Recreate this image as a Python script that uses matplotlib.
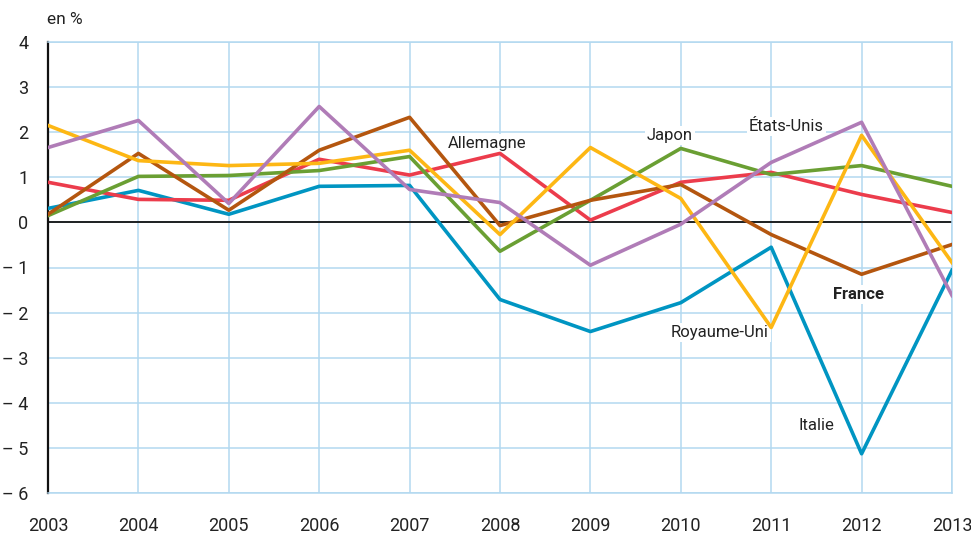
import matplotlib
matplotlib.use("Agg")
import matplotlib.pyplot as plt

plt.rcParams['font.family'] = ['Roboto', 'DejaVu Sans']

annees = list(range(2003, 2014))

allemagne = [0.89, 0.51, 0.49, 1.40, 1.05, 1.53, 0.05, 0.89, 1.11, 0.62, 0.22]
italie = [0.31, 0.71, 0.18, 0.80, 0.82, -1.71, -2.42, -1.78, -0.55, -5.13, -1.06]
japon = [0.15, 1.02, 1.04, 1.15, 1.46, -0.64, 0.49, 1.64, 1.06, 1.26, 0.80]
royaume_uni = [2.15, 1.37, 1.26, 1.31, 1.60, -0.27, 1.66, 0.53, -2.33, 1.93, -0.89]
etats_unis = [1.66, 2.26, 0.42, 2.57, 0.73, 0.44, -0.95, -0.04, 1.33, 2.22, -1.62]
france = [0.18, 1.53, 0.27, 1.60, 2.33, -0.07, 0.49, 0.84, -0.27, -1.15, -0.49]

graduations = [4, 3, 2, 1, 0, -1, -2, -3, -4, -5, -6]

grille = '#b3d8f0'

fig = plt.figure(figsize=(9.71, 5.37), dpi=100)
ax = fig.add_axes([48 / 971, 44 / 537, 904 / 971, 451 / 537])

ax.set_xlim(2003, 2013)
ax.set_ylim(-6, 4)
ax.set_xticks(annees)
ax.set_yticks(graduations)
ax.set_yticklabels([str(v) if v >= 0 else '\u2013 ' + str(-v) for v in graduations])
ax.grid(True, color=grille, linewidth=1.1)
ax.set_axisbelow(True)
ax.tick_params(length=0, labelsize=13, colors='#222222')
ax.tick_params(axis='x', pad=17)
ax.tick_params(axis='y', pad=14)
for cote in ['top', 'right', 'bottom']:
    ax.spines[cote].set_color(grille)
    ax.spines[cote].set_linewidth(1.1)
ax.spines['left'].set_color('#111111')
ax.spines['left'].set_linewidth(1.6)
ax.axhline(0, color='#111111', linewidth=1.3, zorder=2)

series = [
    (italie, '#0095c2'),
    (allemagne, '#ec3c4c'),
    (japon, '#6a9f33'),
    (france, '#b4560f'),
    (royaume_uni, '#fdb714'),
    (etats_unis, '#b07cb7'),
]
for valeurs, couleur in series:
    ax.plot(annees, valeurs, color=couleur, linewidth=2.6, zorder=3)

etiquettes = [
    ('Allemagne', 2007.86, 1.75, 'normal'),
    ('Japon', 2009.88, 1.93, 'normal'),
    ('États-Unis', 2011.17, 2.13, 'normal'),
    ('France', 2011.97, -1.6, 'bold'),
    ('Royaume-Uni', 2010.43, -2.44, 'normal'),
    ('Italie', 2011.5, -4.5, 'normal'),
]
for texte, x, y, poids in etiquettes:
    ax.text(x, y, texte, fontsize=12, fontweight=poids, color='#222222',
            ha='center', va='center', zorder=2.5,
            bbox=dict(facecolor='white', edgecolor='none', pad=1.5))

fig.text(47 / 971, 1 - 20 / 537, 'en %', fontsize=12.5, color='#222222', va='center')

fig.savefig('out.png', dpi=100)
